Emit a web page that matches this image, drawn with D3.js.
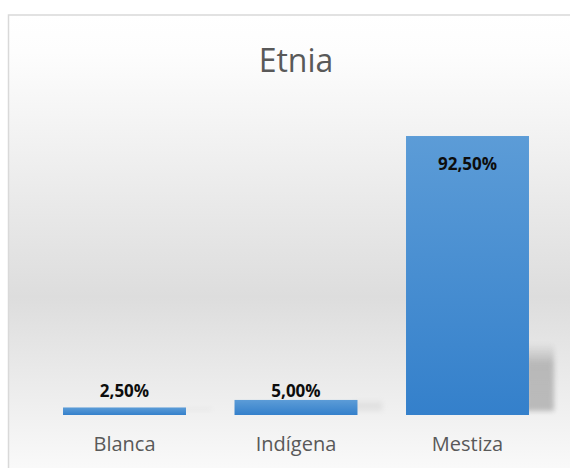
<!DOCTYPE html>
<html>
<head>
<meta charset="utf-8">
<script src="https://cdn.jsdelivr.net/npm/d3@7"></script>
<style>
  html, body { margin: 0; padding: 0; background: #fff; }
  svg { display: block; font-family: "Open Sans", "Noto Sans", sans-serif; }
</style>
</head>
<body>
<svg id="chart" width="570" height="468"></svg>
<script>
// chart data
const categories = ["Blanca", "Indígena", "Mestiza"];
const values = [2.5, 5.0, 92.5];
const valueLabels = ["2,50%", "5,00%", "92,50%"];
const chartTitle = "Etnia";
const yDomain = [0, 100];

const svg = d3.select("#chart");
const defs = svg.append("defs");

// background gradient of the chart area
const bg = defs.append("linearGradient")
  .attr("id", "bgGrad")
  .attr("x1", 0).attr("y1", 0).attr("x2", 0).attr("y2", 1);
[[0, "#ffffff"], [0.08, "#fdfdfd"], [0.6, "#dddddd"], [0.82, "#eeeeee"], [1, "#fcfcfc"]]
  .forEach(s => bg.append("stop").attr("offset", s[0]).attr("stop-color", s[1]));

const barGrad = defs.append("linearGradient")
  .attr("id", "barGrad")
  .attr("x1", 0).attr("y1", 0).attr("x2", 0).attr("y2", 1);
barGrad.append("stop").attr("offset", 0).attr("stop-color", "#5c9cd7");
barGrad.append("stop").attr("offset", 1).attr("stop-color", "#3480cb");

// shadow fades out towards its top
const shGrad = defs.append("linearGradient")
  .attr("id", "shGrad")
  .attr("x1", 0).attr("y1", 0).attr("x2", 0).attr("y2", 1);
shGrad.append("stop").attr("offset", 0).attr("stop-color", "#b0b0b0").attr("stop-opacity", 0);
shGrad.append("stop").attr("offset", 0.3).attr("stop-color", "#b0b0b0").attr("stop-opacity", 0.9);
shGrad.append("stop").attr("offset", 1).attr("stop-color", "#b8b8b8").attr("stop-opacity", 1);

const blur = defs.append("filter")
  .attr("id", "shadowBlur")
  .attr("x", "-50%").attr("y", "-50%").attr("width", "200%").attr("height", "200%");
blur.append("feGaussianBlur").attr("stdDeviation", 2.5);

// frame
svg.append("rect")
  .attr("x", 8.5).attr("y", 15)
  .attr("width", 580).attr("height", 470)
  .attr("fill", "url(#bgGrad)")
  .attr("stroke", "#d9d9d9")
  .attr("stroke-width", 1.5);

svg.append("text")
  .attr("x", 296)
  .attr("y", 72)
  .attr("text-anchor", "middle")
  .attr("font-size", 32)
  .attr("fill", "#595959")
  .text(chartTitle);

const margin = {left: 38.75, right: 553.25, top: 113.4, bottom: 415};

const x = d3.scaleBand()
  .domain(categories)
  .range([margin.left, margin.right])
  .paddingInner(0.283)
  .paddingOuter(0.1415);

const y = d3.scaleLinear()
  .domain(yDomain)
  .range([margin.bottom, margin.top]);

const rows = categories.map((c, i) => ({cat: c, value: values[i], label: valueLabels[i]}));

const shadowH = 72;
const shTop = d => Math.max(y(d.value), y(0) - shadowH);

// soft shadow on the right of each bar
svg.append("g").selectAll("rect")
  .data(rows)
  .join("rect")
  .attr("x", d => x(d.cat) + x.bandwidth() - 4)
  .attr("width", 29)
  .attr("y", shTop)
  .attr("height", d => y(0) - 4 - shTop(d))
  .attr("fill", "url(#shGrad)")
  .attr("opacity", d => Math.min(1, (y(0) - y(d.value)) / shadowH) * 0.9 + 0.05)
  .attr("filter", "url(#shadowBlur)");

svg.append("g").selectAll("rect")
  .data(rows)
  .join("rect")
  .attr("x", d => x(d.cat))
  .attr("width", x.bandwidth())
  .attr("y", d => y(d.value))
  .attr("height", d => y(0) - y(d.value))
  .attr("fill", "url(#barGrad)");

// data labels: inside end for the tall bar, above for the short ones
svg.append("g").selectAll("text")
  .data(rows)
  .join("text")
  .attr("x", d => x(d.cat) + x.bandwidth() / 2)
  .attr("y", d => {
    const top = y(d.value);
    if (y(0) - top > 60) return top + 34;
    return Math.min(top - 3, y(0) - 18);
  })
  .attr("text-anchor", "middle")
  .attr("font-size", 17)
  .attr("font-weight", "bold")
  .attr("fill", "#0d0d0d")
  .text(d => d.label);

// category axis (no line, labels only)
const xAxis = svg.append("g")
  .attr("transform", `translate(0,${margin.bottom})`)
  .call(d3.axisBottom(x).tickSize(0).tickPadding(22));
xAxis.select(".domain").remove();
xAxis.selectAll("text")
  .attr("font-family", "\"Open Sans\", \"Noto Sans\", sans-serif")
  .attr("font-size", 20)
  .attr("fill", "#595959");
</script>
</body>
</html>
